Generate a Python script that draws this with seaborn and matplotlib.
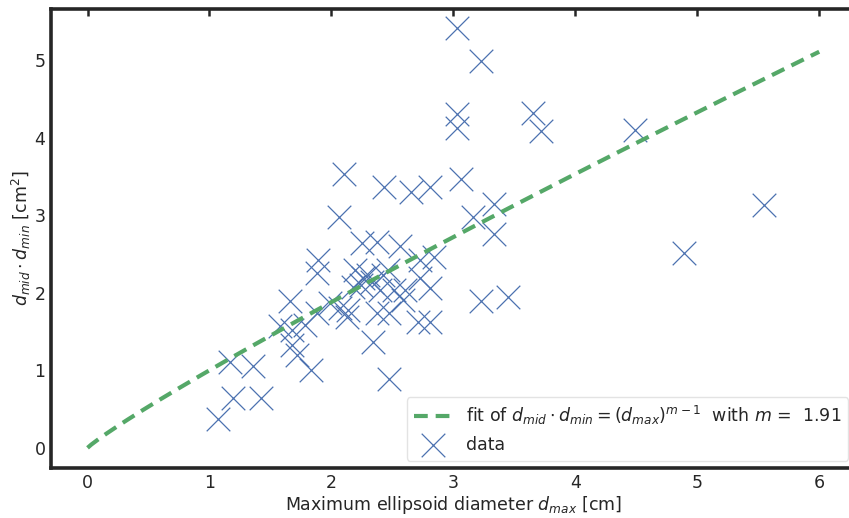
import numpy as np
import pandas as pd
import matplotlib
matplotlib.use("Agg")
import matplotlib.pyplot as plt
import seaborn as sns

# data
d_max = [3.03, 3.23, 3.03, 3.03, 3.65, 3.72, 4.49, 2.10, 3.06, 2.43, 2.65, 2.81,
         3.33, 5.55, 2.06, 3.16, 3.33, 4.89, 3.23, 3.45, 2.47, 2.25, 2.37, 2.56,
         2.73, 2.84, 1.89, 1.88, 2.19, 2.26, 2.30, 2.33, 2.24, 2.42, 2.46, 2.73,
         2.81, 2.60, 2.51, 2.40, 2.18, 1.66, 1.99, 2.07, 2.13, 1.88, 2.37, 2.47,
         2.59, 2.71, 2.81, 2.14, 2.34, 1.58, 1.68, 1.78, 1.68, 1.72, 1.83, 1.17,
         1.36, 1.19, 1.42, 1.07]
d_prod = [5.41, 4.99, 4.30, 4.12, 4.32, 4.09, 4.10, 3.53, 3.47, 3.36, 3.30, 3.36,
          3.14, 3.13, 2.98, 2.98, 2.76, 2.51, 1.89, 1.95, 0.89, 2.64, 2.65, 2.60,
          2.42, 2.46, 2.42, 2.26, 2.29, 2.19, 2.23, 2.14, 2.10, 2.23, 2.29, 2.19,
          2.06, 2.04, 2.04, 2.04, 2.07, 1.89, 1.87, 1.80, 1.69, 1.74, 1.74, 1.74,
          1.91, 1.62, 1.62, 1.78, 1.37, 1.57, 1.52, 1.59, 1.33, 1.20, 1.01, 1.11,
          1.06, 0.64, 0.64, 0.37]
m_fit = 1.91
fit_range = [0.0, 6.0]
x_ticks = [0, 1, 2, 3, 4, 5, 6]
y_ticks = [0, 1, 2, 3, 4, 5]

sns.set_theme(style="white")
plt.rcParams['font.family'] = ['DejaVu Sans']

fig = plt.figure(figsize=(8.49, 5.18), dpi=100)
ax = fig.add_axes([0.060, 0.0965, 0.948, 0.8865])

xf = np.linspace(fit_range[0], fit_range[1], 200)
fit_df = pd.DataFrame({"x": xf, "y": xf ** (m_fit - 1)})
data_df = pd.DataFrame({"x": d_max, "y": d_prod})

sns.lineplot(data=fit_df, x="x", y="y", ax=ax, color="#55A868", lw=3, ls=(0, (3.3, 1.9)),
             label=r"fit of $d_{mid} \cdot d_{min} = (d_{max})^{m-1}$  with $m$ =  %.2f" % m_fit)
sns.scatterplot(data=data_df, x="x", y="y", ax=ax, marker="x", s=17**2, color="#4C72B0",
                linewidth=0.9, label="data")

ax.set_xlim(-0.3, 6.3)
ax.set_ylim(-0.26, 5.66)
ax.set_xticks(x_ticks)
ax.set_yticks(y_ticks)
ax.tick_params(direction="in", top=True, right=True, bottom=False, left=False,
               labelbottom=True, labelleft=True, length=5, width=1.8, color="#262626",
               labelsize=12.5, labelcolor="#262626", pad=4)
for s in ax.spines.values():
    s.set_linewidth(2.6)
    s.set_color("#262626")

ax.set_xlabel(r"Maximum ellipsoid diameter $d_{max}$ [cm]", fontsize=12.5, color="#262626", labelpad=2)
ax.set_ylabel(r"$d_{mid} \cdot d_{min}$ [cm$^2$]", fontsize=12.5, color="#262626", labelpad=1)

leg = ax.legend(loc="lower right", fontsize=12.5, frameon=True, handlelength=2.2,
                bbox_to_anchor=(0.997, 0.004), borderaxespad=0.3)
leg.get_frame().set_edgecolor("#dddddd")

fig.savefig("out.png", dpi=100)
